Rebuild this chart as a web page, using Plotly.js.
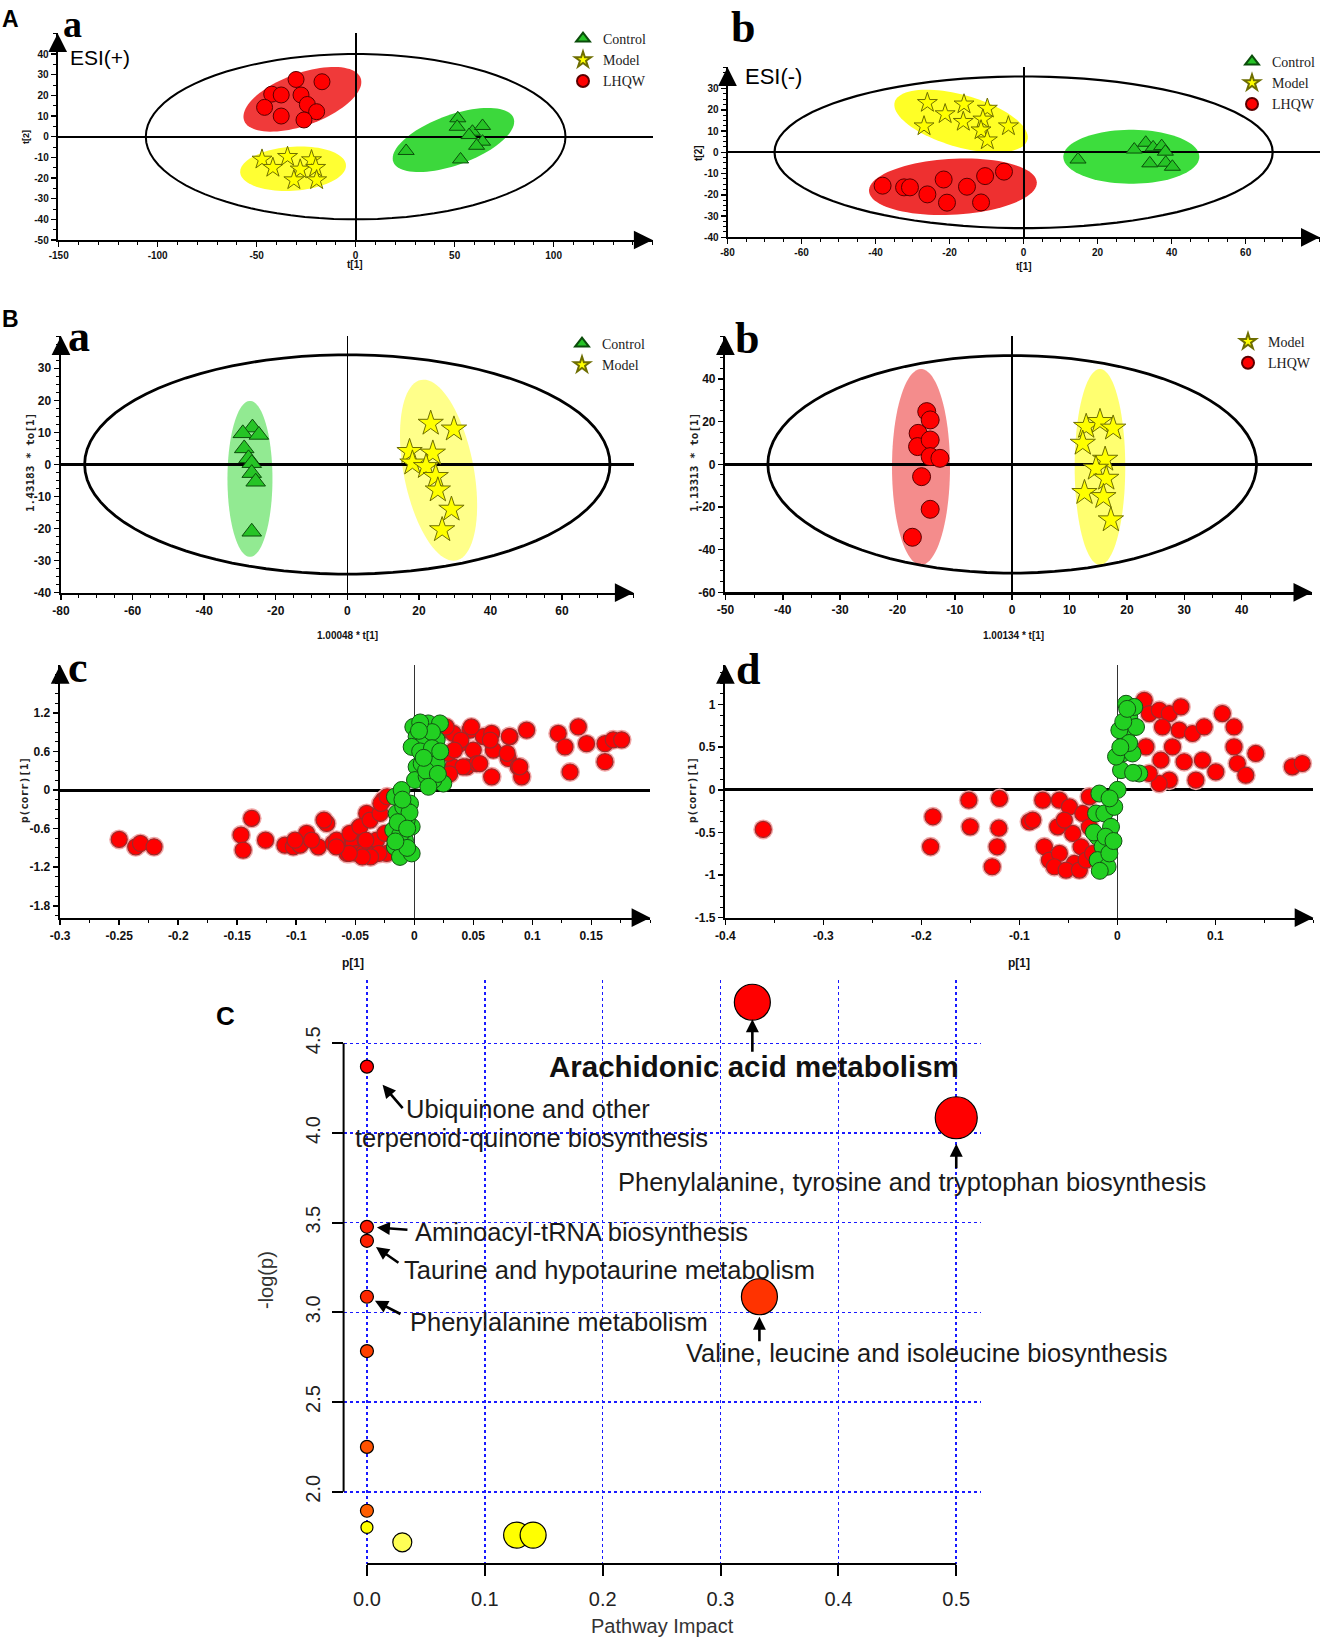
<!DOCTYPE html>
<html>
<head>
<meta charset="utf-8">
<script src="https://cdn.plot.ly/plotly-3.0.1.min.js"></script>
<style>html,body{margin:0;padding:0;background:#fff;}#chart{width:1322px;height:1638px;}</style>
</head>
<body>
<div id="chart"></div>
<script>
// ---------------- DATA ----------------
// A-a  ESI(+) PCA scores
const aaControlX = [51.6, 51.3, 59.0, 64.1, 57.3, 64.1, 61.1, 25.5, 53.0];
const aaControlY = [8.9, 4.8, 2.4, 5.2, 0.8, -2.4, -4.4, -6.9, -11.0];
const aaModelX = [-47.3, -34.4, -41.8, -22.3, -28.0, -20.2, -31.2, -19.7];
const aaModelY = [-11.0, -9.7, -15.0, -11.3, -15.8, -15.0, -21.0, -21.0];
const aaLhqwX = [-30.1, -17.0, -42.4, -37.6, -27.6, -46.0, -24.4, -19.7, -37.6, -26.1];
const aaLhqwY = [27.7, 26.6, 20.6, 20.2, 20.2, 14.2, 15.6, 12.1, 10.0, 8.1];
// A-b  ESI(-) PCA scores
const abControlX = [14.7, 29.9, 33.0, 35.0, 37.3, 38.3, 34.1, 38.4, 40.2];
const abControlY = [-3.4, 1.3, 4.5, 2.3, 2.9, 0.3, -5.2, -4.9, -6.8];
const abModelX = [-26.0, -16.1, -9.8, -21.2, -16.3, -11.0, -26.9, -11.5, -4.1, -9.8];
const abModelY = [23.3, 22.6, 20.6, 18.0, 14.4, 15.5, 12.3, 10.4, 12.3, 5.7];
const abLhqwX = [-38.1, -32.3, -30.7, -26.0, -21.6, -20.7, -15.3, -10.4, -11.5, -5.3];
const abLhqwY = [-15.7, -16.5, -16.5, -19.8, -12.8, -23.7, -16.2, -11.2, -23.6, -9.1];
// B-a  OPLS-DA Control vs Model
const baControlX = [-26.5, -29.2, -24.7, -28.8, -27.6, -26.7, -26.7, -25.6, -26.7];
const baControlY = [11.5, 9.7, 9.2, 5.0, 1.9, 0.4, -2.7, -5.4, -21.0];
const baModelX = [23.3, 29.8, 17.4, 18.2, 23.9, 22.0, 24.7, 25.3, 29.1, 26.5];
const baModelY = [12.8, 11.0, 4.0, 0.4, 3.5, -0.7, -3.8, -8.0, -14.0, -20.4];
// B-b  OPLS-DA Model vs LHQW
const bbModelX = [12.9, 15.3, 17.6, 12.3, 16.2, 14.6, 16.4, 12.6, 15.9, 17.2];
const bbModelY = [17.7, 20.0, 16.9, 9.8, 2.3, -1.9, -6.6, -13.3, -15.2, -26.1];
const bbLhqwX = [-14.9, -14.3, -16.4, -16.5, -14.3, -14.3, -12.6, -15.8, -14.3, -17.4];
const bbLhqwY = [24.7, 20.8, 14.5, 8.3, 11.4, 3.6, 2.8, -5.8, -21.1, -34.2];
// B-c  S-plot
const bcRedX = [-0.250, -0.236, -0.232, -0.2205, -0.1468, -0.145, -0.1378, -0.126, -0.1096, -0.1025, -0.0968, -0.0912,
  -0.0813, -0.0742, -0.0686, -0.063, -0.0474, -0.0517, -0.0403, -0.0417, -0.0658, -0.0545, -0.046, -0.0403,
  -0.0375, -0.0319, -0.029, -0.0262, -0.0248, -0.0234, -0.0488, -0.057, -0.0432, -0.0347, -0.041, -0.030,
  -0.0283, -0.023, -0.037, -0.044, -0.055, -0.066, -0.0765, -0.101, -0.087,
  0.0246, 0.033, 0.0387, 0.033, 0.0472, 0.05, 0.0444, 0.0585, 0.0656, 0.067, 0.0656, 0.0811, 0.0797, 0.0881,
  0.091, 0.0952, 0.122, 0.1277, 0.132, 0.139, 0.146, 0.1616, 0.1616, 0.1686, 0.1757, 0.0288, 0.0529,
  0.027, 0.0395, 0.0484, 0.0413, 0.0555, 0.034, 0.0644, 0.0805, 0.0787, 0.0894, 0.0202, 0.030];
const bcRedY = [-0.768, -0.883, -0.83, -0.883, -0.70, -0.934, -0.44, -0.78, -0.857, -0.883, -0.857, -0.675,
  -0.883, -0.52, -0.83, -0.83, -0.6, -0.83, -0.364, -0.78, -0.78, -0.675, -0.57, -0.883,
  -0.468, -0.78, -0.364, -0.157, -0.675, -0.986, -0.986, -0.986, -0.986, -1.01, -0.78, -0.986,
  -0.21, -0.105, -1.04, -1.04, -0.986, -0.883, -0.468, -0.78, -0.78,
  0.93, 0.88, 0.72, 0.36, 0.93, 0.62, 0.36, 0.83, 0.88, 0.62, 0.205, 0.83, 0.49, 0.36,
  0.205, 0.93, 0.88, 0.67, 0.28, 0.98, 0.72, 0.72, 0.44, 0.78, 0.78, 0.57, 0.41,
  0.98, 0.776, 0.98, 0.36, 0.41, 0.62, 0.776, 0.83, 0.57, 0.36, 1.0, 0.25];
const bcGreenX = [-0.0164, -0.0149, -0.0178, -0.0164, -0.0121, -0.0079, -0.0036, -0.0022, -0.0064, -0.0107, -0.0022, -0.0093,
  -0.0008, 0.002, 0.0076, 0.009, 0.0119, 0.0133, 0.002, 0.0006, 0.0063, 0.0105, 0.019, 0.019, 0.0246, 0.0218,
  0.0161, -0.0022, -0.012, -0.006, -0.004, 0.005, 0.015, 0.010,
  0.005, 0.015, 0.020, 0.008, 0.022, 0.012, 0.004, -0.014, -0.010, -0.016, -0.006];
const bcGreenY = [-0.105, -0.364, -0.623, -0.883, -1.04, -0.78, -0.21, -0.57, -0.468, 0.0, -0.986, -0.26,
  0.98, 0.83, 0.98, 0.78, 1.035, 0.57, 0.36, 0.154, 0.41, 0.21, 0.78, 0.41, 0.1, 1.035,
  0.154, 0.67, -0.7, -0.9, -0.35, 0.6, 0.9, 0.3,
  1.05, 0.65, 0.25, 0.5, 0.6, 0.05, 0.92, -0.5, -0.15, -0.8, -0.6];
// B-d  S-plot
const bdRedX = [-0.3614, -0.1882, -0.1906, -0.1516, -0.1502, -0.1203, -0.121, -0.1227, -0.1278, -0.0897,
  -0.0864, -0.0762, -0.0745, -0.0694, -0.0609, -0.0592, -0.0592, -0.049, -0.0456, -0.0439, -0.0371, -0.0354,
  -0.0286, -0.0286, -0.0643, -0.0524, -0.0388, -0.032, -0.0253, -0.0541,
  0.0274, 0.0325, 0.0427, 0.0529, 0.046, 0.0648, 0.063, 0.0766, 0.0885, 0.1071, 0.119, 0.119, 0.1224, 0.131,
  0.1412, 0.1785, 0.1886, 0.0868, 0.1004, 0.0801, 0.0681, 0.0529, 0.0427, 0.0325, 0.0291, 0.0444, 0.0562];
const bdRedY = [-0.464, -0.316, -0.668, -0.121, -0.434, -0.101, -0.45, -0.668, -0.902, -0.375,
  -0.355, -0.121, -0.668, -0.824, -0.434, -0.121, -0.746, -0.2, -0.511, -0.863, -0.668, -0.277,
  -0.082, -0.434, -0.902, -0.941, -0.941, -0.824, -0.746, -0.355,
  1.05, 0.895, 0.934, 0.895, 0.738, 0.973, 0.70, 0.661, 0.738, 0.895, 0.738, 0.504, 0.309, 0.172,
  0.427, 0.27, 0.309, 0.348, 0.211, 0.114, 0.33, 0.114, 0.075, 0.192, 0.504, 0.35, 0.504];
const bdGreenX = [-0.0184, -0.0218, -0.0133, -0.0202, -0.0151, -0.0202, -0.01, -0.0065, -0.0032, 0.0002, 0.0037,
  0.0053, 0.0088, 0.0121, 0.0088, 0.0172, 0.0155, 0.019, -0.0014, 0.002, 0.0223, -0.0082,
  -0.024, -0.018, -0.012, 0.006, 0.012, 0.016, 0.003, -0.008, 0.010, -0.004];
const bdGreenY = [-0.043, -0.277, -0.277, -0.551, -0.668, -0.824, -0.902, -0.434, -0.2, 0.0, 0.231,
  0.427, 0.621, 0.856, 1.01, 0.973, 0.427, 0.738, 0.39, 0.70, 0.192, -0.746,
  -0.5, -0.95, -0.55, 0.8, 0.55, 0.2, 0.5, -0.1, 0.95, -0.6];
// C  pathway analysis
const cNames = ['Arachidonic acid metabolism', 'Phenylalanine, tyrosine and tryptophan biosynthesis',
  'Ubiquinone and other terpenoid-quinone biosynthesis', 'Aminoacyl-tRNA biosynthesis',
  'Taurine and hypotaurine metabolism', 'Phenylalanine metabolism',
  'Valine, leucine and isoleucine biosynthesis', '', '', '', '', '', '', ''];
const cImpact = [0.327, 0.500, 0, 0, 0, 0, 0.333, 0, 0, 0, 0, 0.030, 0.127, 0.141];
const cLogP = [4.729, 4.085, 4.370, 3.477, 3.399, 3.087, 3.087, 2.784, 2.250, 1.894, 1.801, 1.718, 1.758, 1.758];
const cSize = [36, 42, 13, 13, 13, 13, 36, 13, 13, 13, 12, 19, 26, 26];
const cColor = ['#ff0000', '#ff0000', '#ff0000', '#ff1a00', '#ff2000', '#ff2800', '#ff3300', '#ff4000',
  '#ff5200', '#ff5e00', '#ffff00', '#ffff55', '#ffff00', '#ffff00'];
// tick labels
const aaXTicks = [-150, -100, -50, 0, 50, 100];
const aaYTicks = [-50, -40, -30, -20, -10, 0, 10, 20, 30, 40];
const abXTicks = [-80, -60, -40, -20, 0, 20, 40, 60];
const abYTicks = [-40, -30, -20, -10, 0, 10, 20, 30];
const baXTicks = [-80, -60, -40, -20, 0, 20, 40, 60];
const baYTicks = [-40, -30, -20, -10, 0, 10, 20, 30];
const bbXTicks = [-50, -40, -30, -20, -10, 0, 10, 20, 30, 40];
const bbYTicks = [-60, -40, -20, 0, 20, 40];
const bcXTicks = [-0.3, -0.25, -0.2, -0.15, -0.1, -0.05, 0, 0.05, 0.1, 0.15];
const bcXText = ['-0.3', '-0.25', '-0.2', '-0.15', '-0.1', '-0.05', '0', '0.05', '0.1', '0.15'];
const bcYTicks = [-1.8, -1.2, -0.6, 0, 0.6, 1.2];
const bcYText = ['-1.8', '-1.2', '-0.6', '0', '0.6', '1.2'];
const bdXTicks = [-0.4, -0.3, -0.2, -0.1, 0, 0.1];
const bdXText = ['-0.4', '-0.3', '-0.2', '-0.1', '0', '0.1'];
const bdYTicks = [-1.5, -1, -0.5, 0, 0.5, 1];
const bdYText = ['-1.5', '-1', '-0.5', '0', '0.5', '1'];
const cXTicks = [0, 0.1, 0.2, 0.3, 0.4, 0.5];
const cXText = ['0.0', '0.1', '0.2', '0.3', '0.4', '0.5'];
const cYTicks = [2.0, 2.5, 3.0, 3.5, 4.0, 4.5];
const cYText = ['2.0', '2.5', '3.0', '3.5', '4.0', '4.5'];

// ---------------- LAYOUT HELPERS ----------------
const W = 1322, H = 1638;
const SERIF = 'Liberation Serif, Times New Roman, serif';
const SANS = 'Liberation Sans, Arial, sans-serif';
const MONO = 'DejaVu Sans Mono, Liberation Mono, monospace';

// pixel boxes [x0, x1, y0(top), y1(bottom)] and ranges
const P = {
  aa: {n: '', box: [57.7, 652.6, 33.4, 240], xr: [-150.5, 150], yr: [-50, 50]},
  ab: {n: '2', box: [727.5, 1319.7, 67.3, 237.3], xr: [-80, 80], yr: [-40, 40]},
  ba: {n: '3', box: [61, 633.6, 336.2, 592.7], xr: [-80, 80], yr: [-40, 40]},
  bb: {n: '4', box: [725.4, 1312.2, 336.3, 592.3], xr: [-50, 52.3], yr: [-60, 60]},
  bc: {n: '5', box: [60.2, 650.3, 665, 917.7], xr: [-0.3, 0.2], yr: [-1.985, 1.943]},
  bd: {n: '6', box: [725.4, 1313.4, 665, 917.7], xr: [-0.4, 0.2], yr: [-1.5, 1.465]},
  cc: {n: '7', box: [343.6, 981, 980, 1564], xr: [-0.0198, 0.521], yr: [1.597, 4.853]}
};
function domX(p) { return [p.box[0] / W, p.box[1] / W]; }
function domY(p) { return [1 - p.box[3] / H, 1 - p.box[2] / H]; }
function scl(p) {
  return [(p.box[1] - p.box[0]) / (p.xr[1] - p.xr[0]), (p.box[3] - p.box[2]) / (p.yr[1] - p.yr[0])];
}

function pcaAxes(p, xt, yt, xminor, yminor, fsz, lw, zx, zy) {
  const f = {family: SANS, size: fsz, color: '#111', weight: 'bold'};
  const common = {showline: true, linecolor: '#000', linewidth: lw, ticks: 'outside', ticklen: 5,
    tickwidth: 1.5, tickcolor: '#000', showgrid: false, zeroline: true, zerolinecolor: '#000',
    tickfont: f, fixedrange: true, mirror: false};
  const xa = Object.assign({}, common, {domain: domX(p), range: p.xr, anchor: 'y' + p.n,
    tickmode: 'array', tickvals: xt, ticktext: xt.map(String), zerolinewidth: zx,
    minor: {ticks: 'outside', ticklen: 3, tickwidth: 1, tickcolor: '#000', tickmode: 'linear', tick0: 0, dtick: xminor}});
  const ya = Object.assign({}, common, {domain: domY(p), range: p.yr, anchor: 'x' + p.n,
    tickmode: 'array', tickvals: yt, ticktext: yt.map(String), zerolinewidth: zy,
    minor: {ticks: 'outside', ticklen: 3, tickwidth: 1, tickcolor: '#000', tickmode: 'linear', tick0: 0, dtick: yminor}});
  return [xa, ya];
}

function ellipsePath(cx, cy, a, b, deg, sx, sy) {
  const th = deg * Math.PI / 180;
  let d = '';
  for (let i = 0; i <= 90; i++) {
    const t = i / 90 * 2 * Math.PI;
    const px = a * Math.cos(t) * Math.cos(th) - b * Math.sin(t) * Math.sin(th);
    const py = a * Math.cos(t) * Math.sin(th) + b * Math.sin(t) * Math.cos(th);
    d += (i ? 'L' : 'M') + (cx + px / sx).toFixed(5) + ',' + (cy + py / sy).toFixed(5);
  }
  return d + 'Z';
}

// group confidence ellipses: [panel, cx, cy, a(px), b(px), angle(deg), fill]
const groupEllipses = [
  ['aa', -26.9, 18.1, 62, 26, 20, '#f03a3a'],
  ['aa', -31.6, -15.5, 53, 22, 4, '#ffff33'],
  ['aa', 49.4, -1.6, 64, 25, 20, '#3cd83c'],
  ['ab', -16.9, 14.7, 69, 26, -16, '#ffff26'],
  ['ab', -19.1, -16.2, 84, 28, 3, '#ee3030'],
  ['ab', 29.1, -2.1, 68, 27, 0, '#3ddd3d'],
  ['ba', -27.2, -4.5, 22.5, 78, 0, '#92ea92'],
  ['ba', 25.5, -1.8, 92, 35, 101, '#ffff8a'],
  ['bb', -15.9, -1.25, 29, 98, 0, '#f48c8c'],
  ['bb', 15.3, -1.25, 25.3, 98, 0, '#ffff70']
];
// Hotelling T2 ellipses (data units): [panel, a, b, line width]
const hotelling = [['aa', 106, 40, 2], ['ab', 67.3, 35.7, 2.2], ['ba', 73.4, 34.2, 2.8], ['bb', 42.6, 51, 2.8]];

const shapes = [];
groupEllipses.forEach(e => {
  const p = P[e[0]], s = scl(p);
  shapes.push({type: 'path', xref: 'x' + p.n, yref: 'y' + p.n, layer: 'below',
    path: ellipsePath(e[1], e[2], e[3], e[4], e[5], s[0], s[1]), fillcolor: e[6], line: {width: 0}});
});
hotelling.forEach(h => {
  const p = P[h[0]];
  shapes.push({type: 'path', xref: 'x' + p.n, yref: 'y' + p.n, layer: 'below',
    path: ellipsePath(0, 0, h[1], h[2], 0, 1, 1), line: {color: '#000', width: h[3]}});
});
// C axis lines (R style, spanning the tick range only)
shapes.push({type: 'line', xref: 'x7', yref: 'y7 domain', x0: cXTicks[0], x1: cXTicks[cXTicks.length - 1], y0: 0, y1: 0, line: {color: '#000', width: 2}});
shapes.push({type: 'line', xref: 'x7 domain', yref: 'y7', x0: 0, x1: 0, y0: cYTicks[0], y1: cYTicks[cYTicks.length - 1], line: {color: '#000', width: 2}});

// ---------------- TRACES ----------------
const traces = [];
const triM = (sz) => ({symbol: 'triangle-up', size: sz, color: '#26c426', line: {color: '#0b4d0b', width: 1}});
const starM = (sz) => ({symbol: 'star', size: sz, color: '#ffff00', line: {color: '#6e6e00', width: 1}});
const circM = (sz) => ({symbol: 'circle', size: sz, color: '#ff0000', line: {color: '#5a0000', width: 1}});
function sc(p, x, y, name, marker, legend, show) {
  traces.push({type: 'scatter', mode: 'markers', x: x, y: y, name: name, xaxis: 'x' + p.n, yaxis: 'y' + p.n,
    marker: marker, legend: legend, showlegend: show, hoverinfo: 'skip', cliponaxis: false});
}
sc(P.aa, aaControlX, aaControlY, 'Control', triM(14), 'legend', true);
sc(P.aa, aaModelX, aaModelY, 'Model', starM(15), 'legend', true);
sc(P.aa, aaLhqwX, aaLhqwY, 'LHQW', circM(16), 'legend', true);
sc(P.ab, abControlX, abControlY, 'Control', triM(14), 'legend2', true);
sc(P.ab, abModelX, abModelY, 'Model', starM(15), 'legend2', true);
sc(P.ab, abLhqwX, abLhqwY, 'LHQW', circM(17), 'legend2', true);
sc(P.ba, baControlX, baControlY, 'Control', triM(17), 'legend3', true);
sc(P.ba, baModelX, baModelY, 'Model', starM(19), 'legend3', true);
sc(P.bb, bbModelX, bbModelY, 'Model', starM(19), 'legend4', true);
sc(P.bb, bbLhqwX, bbLhqwY, 'LHQW', circM(18), 'legend4', true);
const sHalo = {symbol: 'circle', size: 20, color: '#f2a8a8', line: {width: 0}};
const sRed = {symbol: 'circle', size: 16, color: '#ff0000', line: {color: '#a02828', width: 1.2}};
const sGreen = {symbol: 'circle', size: 17, color: '#22d022', line: {color: '#145214', width: 1}};
sc(P.bc, bcRedX, bcRedY, 'halo', sHalo, 'legend', false);
sc(P.bc, bcRedX, bcRedY, 'red', sRed, 'legend', false);
sc(P.bc, bcGreenX, bcGreenY, 'green', sGreen, 'legend', false);
sc(P.bd, bdRedX, bdRedY, 'halo', sHalo, 'legend', false);
sc(P.bd, bdRedX, bdRedY, 'red', sRed, 'legend', false);
sc(P.bd, bdGreenX, bdGreenY, 'green', sGreen, 'legend', false);
traces.push({type: 'scatter', mode: 'markers', x: cImpact, y: cLogP, text: cNames, xaxis: 'x7', yaxis: 'y7',
  showlegend: false, hoverinfo: 'text', cliponaxis: false,
  marker: {size: cSize, color: cColor, line: {color: '#000', width: 1.2}, opacity: 1}});

// ---------------- AXES ----------------
const layout = {width: W, height: H, margin: {l: 0, r: 0, t: 0, b: 0}, paper_bgcolor: '#fff', plot_bgcolor: '#fff',
  showlegend: true, shapes: shapes, annotations: []};
let ax;
ax = pcaAxes(P.aa, aaXTicks, aaYTicks, 10, 5, 10, 2, 2, 2); layout.xaxis = ax[0]; layout.yaxis = ax[1];
ax = pcaAxes(P.ab, abXTicks, abYTicks, 5, 2.5, 10, 2, 2, 2); layout.xaxis2 = ax[0]; layout.yaxis2 = ax[1];
ax = pcaAxes(P.ba, baXTicks, baYTicks, 5, 2.5, 12, 2.5, 1.5, 3); layout.xaxis3 = ax[0]; layout.yaxis3 = ax[1];
ax = pcaAxes(P.bb, bbXTicks, bbYTicks, 5, 5, 12, 2.5, 1.5, 3); layout.xaxis4 = ax[0]; layout.yaxis4 = ax[1];
ax = pcaAxes(P.bc, bcXTicks, bcYTicks, 0.025, 0.15, 12, 2.5, 1.2, 3);
ax[0].ticktext = bcXText; ax[1].ticktext = bcYText; ax[0].zerolinecolor = '#333';
layout.xaxis5 = ax[0]; layout.yaxis5 = ax[1];
ax = pcaAxes(P.bd, bdXTicks, bdYTicks, 0.05, 0.125, 12, 2.5, 1.2, 3);
ax[0].ticktext = bdXText; ax[1].ticktext = bdYText; ax[0].zerolinecolor = '#333';
layout.xaxis6 = ax[0]; layout.yaxis6 = ax[1];

const cFont = {family: SANS, size: 20, color: '#222'};
layout.xaxis7 = {domain: domX(P.cc), range: P.cc.xr, anchor: 'y7', showline: false, zeroline: false,
  ticks: 'outside', ticklen: 11, tickwidth: 2, tickcolor: '#000', tickmode: 'array', tickvals: cXTicks, ticktext: cXText,
  tickfont: cFont, ticklabelstandoff: 6, showgrid: true, gridcolor: '#1a1aff', griddash: 'dot', gridwidth: 1.6, fixedrange: true};
layout.yaxis7 = {domain: domY(P.cc), range: P.cc.yr, anchor: 'x7', showline: false, zeroline: false,
  ticks: 'outside', ticklen: 11, tickwidth: 2, tickcolor: '#000', tickmode: 'array', tickvals: cYTicks, ticktext: cYText,
  tickfont: cFont, tickangle: -90, ticklabelstandoff: 4, showgrid: true, gridcolor: '#1a1aff', griddash: 'dot', gridwidth: 1.6, fixedrange: true};

// ---------------- LEGENDS ----------------
function leg(px, py) {
  return {x: px / W, y: 1 - py / H, xref: 'paper', yref: 'paper', xanchor: 'left', yanchor: 'top',
    bgcolor: 'rgba(0,0,0,0)', borderwidth: 0, itemwidth: 30, tracegroupgap: 0, itemsizing: 'constant',
    font: {family: SERIF, size: 14, color: '#222'}, traceorder: 'normal'};
}
layout.legend = leg(563, 23);
layout.legend2 = leg(1232, 46);
layout.legend3 = leg(562, 328);
layout.legend4 = leg(1228, 326);

// ---------------- ANNOTATIONS ----------------
const A = layout.annotations;
function txt(text, px, py, font, extra) {
  A.push(Object.assign({text: text, x: px / W, y: 1 - py / H, xref: 'paper', yref: 'paper', showarrow: false,
    xanchor: 'center', yanchor: 'middle', font: font}, extra || {}));
}
// panel letters
txt('A', 10, 19, {family: SANS, size: 23, color: '#000', weight: 'bold'});
txt('B', 10, 319, {family: SANS, size: 23, color: '#000', weight: 'bold'});
txt('C', 225, 1016, {family: SANS, size: 26, color: '#000', weight: 'bold'});
const big = {family: SERIF, size: 44, color: '#000', weight: 'bold'};
txt('a', 72.5, 0.5, {family: SERIF, size: 38, color: '#000', weight: 'bold'}, {yanchor: 'top'});
txt('b', 743, 0.5, big, {yanchor: 'top'});
txt('a', 79, 337, big);
txt('b', 746.5, 339, big);
txt('c', 78, 667, big);
txt('d', 747.5, 669, big);
txt('ESI(+)', 100, 58, {family: SANS, size: 21, color: '#000'});
txt('ESI(-)', 773, 76.5, {family: SANS, size: 22, color: '#000'});
// axis titles
const smallB = (s) => ({family: SANS, size: s, color: '#111', weight: 'bold'});
txt('t[1]', 355, 265, smallB(10));
txt('t[2]', 26, 137, smallB(9), {textangle: -90});
txt('t[1]', 1024, 266.7, smallB(10));
txt('t[2]', 698, 153, smallB(10), {textangle: -90});
txt('1.00048 * t[1]', 347, 636, smallB(10));
txt('1.43183 * to[1]', 30, 463, {family: MONO, size: 11, color: '#222', weight: 'bold'}, {textangle: -90});
txt('1.00134 * t[1]', 1013.7, 636, smallB(10));
txt('1.13313 * to[1]', 694, 463, {family: MONO, size: 11, color: '#222', weight: 'bold'}, {textangle: -90});
txt('p[1]', 352.7, 962.7, smallB(12));
txt('p(corr)[1]', 24, 790, {family: MONO, size: 11, color: '#222', weight: 'bold'}, {textangle: -90});
txt('p[1]', 1018.8, 962.7, smallB(12));
txt('p(corr)[1]', 692, 790, {family: MONO, size: 11, color: '#222', weight: 'bold'}, {textangle: -90});
txt('Pathway Impact', 662, 1626, {family: SANS, size: 20, color: '#333'});
txt('-log(p)', 266, 1280, {family: SANS, size: 20, color: '#333'}, {textangle: -90});

// axis arrows for A/B panels
['', '2', '3', '4', '5', '6'].forEach(n => {
  A.push({text: '', xref: 'x' + n + ' domain', yref: 'y' + n + ' domain', x: 1, y: 0, ax: -18, ay: 0,
    showarrow: true, arrowhead: 2, arrowsize: 1.7, arrowwidth: 2.2, arrowcolor: '#000'});
  A.push({text: '', xref: 'x' + n + ' domain', yref: 'y' + n + ' domain', x: 0, y: 1, ax: 0, ay: 18,
    showarrow: true, arrowhead: 2, arrowsize: 1.7, arrowwidth: 2.2, arrowcolor: '#000'});
});

// C labels (data coordinates of panel C)
const lab = {family: SANS, size: 25.5, color: '#1a1a1a'};
function ctext(text, x, y, font) {
  A.push({text: text, xref: 'x7', yref: 'y7', x: x, y: y, showarrow: false, xanchor: 'left', yanchor: 'middle', font: font});
}
A.push({text: '<b>' + cNames[0] + '</b>', xref: 'x7', yref: 'y7', x: 0.3287, y: 4.369, showarrow: false,
  xanchor: 'center', yanchor: 'middle', font: {family: SANS, size: 29.5, color: '#111'}});
ctext('Ubiquinone and other', 0.0315, 4.134, lab);
ctext('terpenoid-quinone biosynthesis', -0.0115, 3.970, lab);
ctext(cNames[1], 0.2115, 3.726, lab);
ctext(cNames[3], 0.0391, 3.449, lab);
ctext(cNames[4], 0.0296, 3.236, lab);
ctext(cNames[5], 0.0349, 2.947, lab);
ctext(cNames[6], 0.2692, 2.773, lab);
function carrow(i, dx, dy, so) {
  A.push({text: '', xref: 'x7', yref: 'y7', x: cImpact[i], y: cLogP[i], ax: dx, ay: dy, standoff: so,
    showarrow: true, arrowhead: 2, arrowsize: 1.0, arrowwidth: 2.6, arrowcolor: '#000'});
}
carrow(0, 0, 51, 17);
carrow(1, 0, 52, 26);
carrow(2, 37, 43, 24);
carrow(3, 42, 3, 10);
carrow(4, 33, 23, 11);
carrow(5, 35, 18, 9);
carrow(6, 0, 46, 20);

Plotly.newPlot('chart', traces, layout, {staticPlot: true, displayModeBar: false});
</script>
</body>
</html>
